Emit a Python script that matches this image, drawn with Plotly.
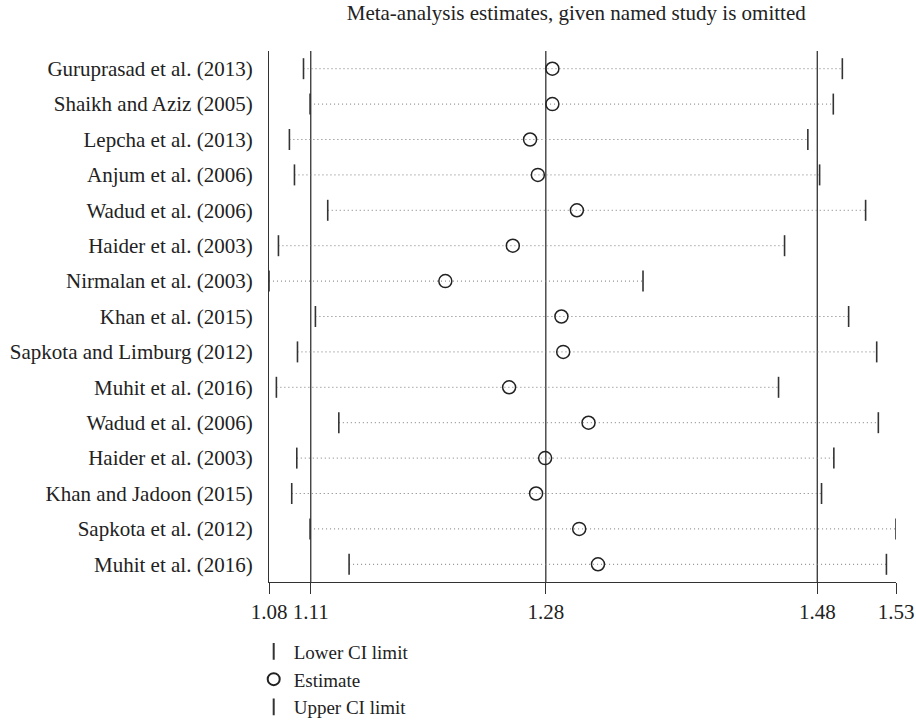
import plotly.graph_objects as go

# ---- data ----
studies = [
    "Guruprasad et al. (2013)",
    "Shaikh and Aziz (2005)",
    "Lepcha et al. (2013)",
    "Anjum et al. (2006)",
    "Wadud et al. (2006)",
    "Haider et al. (2003)",
    "Nirmalan et al. (2003)",
    "Khan et al. (2015)",
    "Sapkota and Limburg (2012)",
    "Muhit et al. (2016)",
    "Wadud et al. (2006)",
    "Haider et al. (2003)",
    "Khan and Jadoon (2015)",
    "Sapkota et al. (2012)",
    "Muhit et al. (2016)",
]
estimate = [1.2865, 1.2865, 1.2702, 1.2759, 1.3044, 1.2576, 1.2083, 1.2931,
            1.2944, 1.2549, 1.3129, 1.2812, 1.2746, 1.3061, 1.3198]
lower = [1.1047, 1.1095, 1.0944, 1.0981, 1.1224, 1.0864, 1.0795, 1.1134,
         1.1003, 1.0849, 1.1305, 1.0998, 1.0961, 1.1095, 1.1380]
upper = [1.4983, 1.4917, 1.4731, 1.4817, 1.5153, 1.4561, 1.3527, 1.5029,
         1.5234, 1.4517, 1.5246, 1.4921, 1.4831, 1.5375, 1.5305]

overall_lower = 1.1100
overall_est = 1.2817
overall_upper = 1.4800

tick_text = ["1.08", "1.11", "1.28", "1.48", "1.53"]
title_text = "Meta-analysis estimates, given named study is omitted"
legend_names = ["Lower CI limit", "Estimate", "Upper CI limit"]

# ---- figure ----
FONT = "Liberation Serif"
FS = 21
TXT = "#222222"
positions = list(range(1, len(studies) + 1))
tick_vals = [min(lower), overall_lower, overall_est, overall_upper, max(upper)]

dot_x, dot_y = [], []
for lo, up, p in zip(lower, upper, positions):
    dot_x += [lo, up, None]
    dot_y += [p, p, None]

fig = go.Figure()

fig.add_trace(go.Scatter(
    x=dot_x, y=dot_y, mode="lines",
    line=dict(color="#7a7a7a", width=1, dash="1px,3px"),
    showlegend=False, hoverinfo="skip",
))
fig.add_trace(go.Scatter(
    x=lower, y=positions, mode="markers", name=legend_names[0],
    marker=dict(symbol="line-ns", size=15, line=dict(color="#333333", width=1.6)),
))
fig.add_trace(go.Scatter(
    x=estimate, y=positions, mode="markers", name=legend_names[1],
    marker=dict(symbol="circle-open", size=13, color="#222222",
                line=dict(color="#222222", width=1.5)),
))
fig.add_trace(go.Scatter(
    x=upper, y=positions, mode="markers", name=legend_names[2],
    marker=dict(symbol="line-ns", size=15, line=dict(color="#333333", width=1.6)),
))

for v in [overall_lower, overall_est, overall_upper]:
    fig.add_shape(type="line", xref="x", yref="paper", x0=v, x1=v, y0=0, y1=1,
                  line=dict(color="#333333", width=1.3), layer="below")

fig.update_layout(
    width=916, height=724,
    margin=dict(l=269, r=20, t=51, b=142, autoexpand=False),
    plot_bgcolor="white", paper_bgcolor="white",
    font=dict(family=FONT, size=FS, color=TXT),
    title=dict(text=title_text, x=0.49, xref="paper", xanchor="center",
               y=1 - 13 / 724, yanchor="middle",
               font=dict(family=FONT, size=FS, color=TXT)),
    xaxis=dict(
        range=[min(lower), max(upper)], automargin=False,
        tickmode="array", tickvals=tick_vals, ticktext=tick_text,
        ticks="outside", ticklen=11, tickwidth=1.3, tickcolor="#333333",
        showline=True, linecolor="#333333", linewidth=1.3,
        showgrid=False, zeroline=False,
        tickfont=dict(family=FONT, size=FS, color=TXT),
    ),
    yaxis=dict(
        range=[len(studies) + 0.5, 0.5], automargin=False,
        tickmode="array", tickvals=positions, ticktext=studies,
        ticks="", showline=True, linecolor="#333333", linewidth=1.3,
        showgrid=False, zeroline=False, ticklabelstandoff=11,
        tickfont=dict(family=FONT, size=FS, color=TXT),
    ),
    legend=dict(
        x=-0.0244, xanchor="left", y=-0.0953, yanchor="top",
        traceorder="normal",
        font=dict(family=FONT, size=19, color=TXT),
        bgcolor="rgba(0,0,0,0)", itemsizing="constant",
    ),
    showlegend=True,
)

fig.write_html(
    "out.html",
    config={"displayModeBar": False},
    post_script="document.body.style.margin='0';document.body.style.overflow='hidden';",
)
